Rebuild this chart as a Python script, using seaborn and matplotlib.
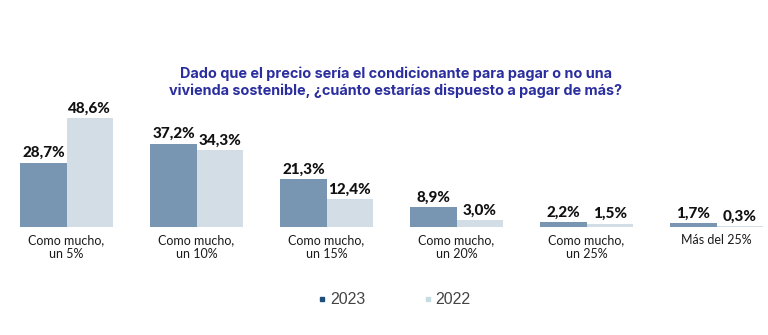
import matplotlib
matplotlib.use("Agg")
import matplotlib.pyplot as plt
import seaborn as sns
import pandas as pd
from matplotlib.lines import Line2D

categories = ["Como mucho,\nun 5%", "Como mucho,\nun 10%", "Como mucho,\nun 15%",
              "Como mucho,\nun 20%", "Como mucho,\nun 25%", "Más del 25%"]
values_2023 = [28.7, 37.2, 21.3, 8.9, 2.2, 1.7]
values_2022 = [48.6, 34.3, 12.4, 3.0, 1.5, 0.3]
years = ["2023", "2022"]

df = pd.DataFrame({
    "cat": categories * 2,
    "year": [years[0]] * len(categories) + [years[1]] * len(categories),
    "val": values_2023 + values_2022,
})

sns.set_theme(style="white")
plt.rcParams['font.family'] = ['Lato', 'DejaVu Sans']

fig = plt.figure(figsize=(7.68, 3.35), dpi=100)
ax = fig.add_axes([0, 0.322, 1, 0.368])
palette = {"2023": "#7896B2", "2022": "#D3DDE6"}
sns.barplot(data=df, x="cat", y="val", hue="year", hue_order=years, palette=palette,
            width=0.71, ax=ax, legend=False, saturation=1, linewidth=0)

for cont in ax.containers:
    labels = [f"{v:.1f}%".replace(".", ",") for v in cont.datavalues]
    ax.bar_label(cont, labels=labels, padding=2, fontsize=11, fontweight="black",
                 color="#111111", family=["Lato", "DejaVu Sans"])

ax.set_xlim(-0.512, 5.396)
ax.set_ylim(0, 55)
ax.set_xlabel("")
ax.set_ylabel("")
ax.set_yticks([])
for s in ax.spines.values():
    s.set_visible(False)
ax.tick_params(axis="x", length=0, pad=5, labelsize=9, labelcolor="#1A1A1A")
for t in ax.get_xticklabels():
    t.set_linespacing(1.15)

fig.text(0.515, 0.755, "Dado que el precio sería el condicionante para pagar o no una\nvivienda sostenible, ¿cuánto estarías dispuesto a pagar de más?",
         ha="center", va="center", fontsize=10.4, fontweight="bold", color="#2B2E9E",
         linespacing=1.2, family=["Inter", "DejaVu Sans"])

handles = [Line2D([], [], marker="s", linestyle="", markersize=3.5, color="#1F4E79"),
           Line2D([], [], marker="s", linestyle="", markersize=3.5, color="#C5DCE0")]
fig.legend(handles, years, loc="center", bbox_to_anchor=(0.512, 0.105), ncol=2, frameon=False,
           labelcolor="#444444", handletextpad=0.1, columnspacing=3.5,
           handlelength=0.8, prop={"family": ["Liberation Sans"], "size": 11.5})

fig.savefig("out.png", dpi=100)
